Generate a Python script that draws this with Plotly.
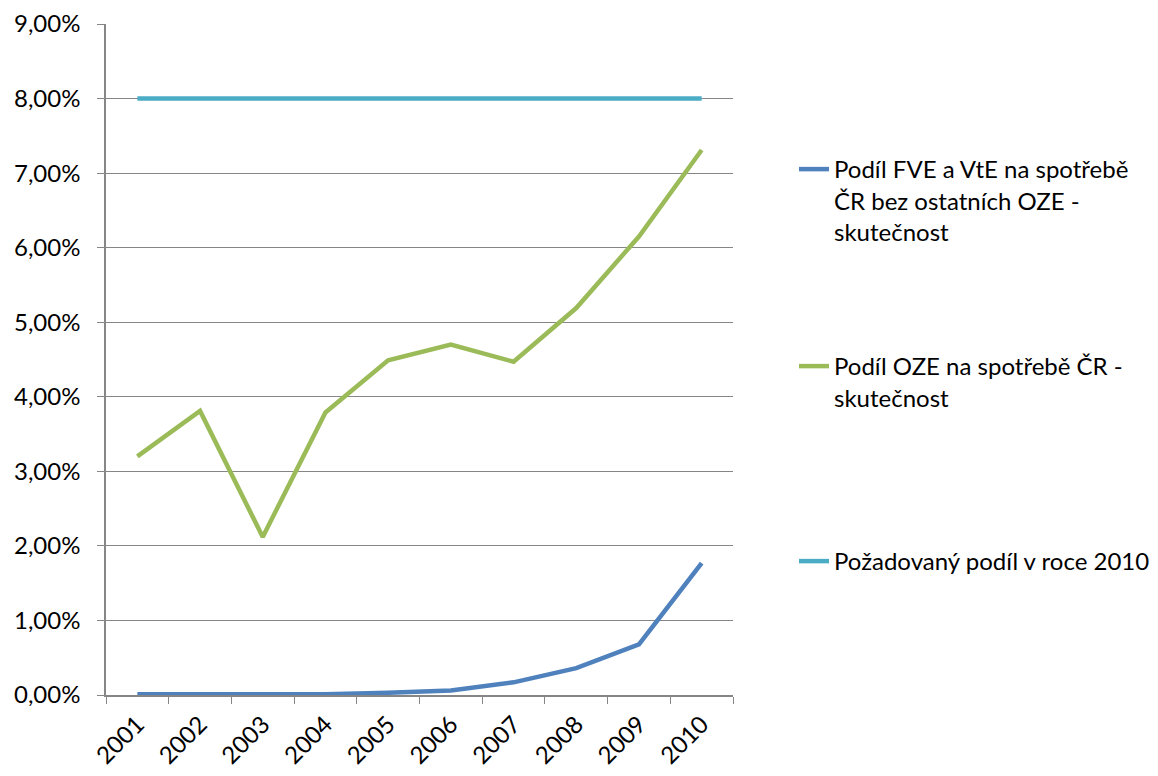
import plotly.graph_objects as go

years = ["2001", "2002", "2003", "2004", "2005", "2006", "2007", "2008", "2009", "2010"]
fve_vte = [0.0001, 0.0001, 0.0002, 0.0001, 0.0003, 0.0006, 0.0017, 0.0036, 0.0068, 0.0177]
oze = [0.0320, 0.0381, 0.0212, 0.0379, 0.0449, 0.0470, 0.0447, 0.0519, 0.0615, 0.0731]
target = [0.08] * 10

names = [
    "Podíl FVE a VtE na spotřebě<br>ČR bez ostatních OZE -<br>skutečnost",
    "Podíl OZE na spotřebě ČR -<br>skutečnost",
    "Požadovaný podíl v roce 2010",
]
colors = ["#4F81BD", "#9BBB59", "#4BACC6"]
series = [fve_vte, oze, target]
legends = ["legend", "legend2", "legend3"]

FONT = "Lato"
FS = 24

fig = go.Figure()
for name, vals, col, lg in zip(names, series, colors, legends):
    fig.add_trace(go.Scatter(
        x=years, y=vals, mode="lines", name=name,
        line=dict(color=col, width=4.5),
        legend=lg,
    ))

# page has an 8px body margin, so the figure is 8px smaller than the window
W, H = 1150, 768
leg_common = dict(
    xref="container", yref="container", xanchor="left", yanchor="top",
    font=dict(family=FONT, size=FS, color="#000000"),
    bgcolor="rgba(0,0,0,0)", valign="top", itemwidth=30,
)
fig.update_layout(
    width=W, height=H,
    paper_bgcolor="white", plot_bgcolor="white",
    margin=dict(l=98, r=425, t=16, b=81, autoexpand=False),
    separators=", ",
    font=dict(family=FONT, size=FS, color="#000000"),
    showlegend=True,
    legend=dict(x=786 / W, y=1 - 139 / H, **leg_common),
    legend2=dict(x=786 / W, y=1 - 336 / H, **leg_common),
    legend3=dict(x=786 / W, y=1 - 531 / H, **leg_common),
    xaxis=dict(
        type="category", tickson="boundaries", ticks="outside", ticklen=7,
        tickcolor="#868686", showline=True, linecolor="#868686", linewidth=1.5,
        showgrid=False, tickangle=-45, range=[-0.5, 9.5], ticklabelstandoff=4,
        tickfont=dict(family=FONT, size=FS, color="#000000"),
    ),
    yaxis=dict(
        range=[0, 0.09], dtick=0.01, tickformat=".2%",
        ticks="outside", ticklen=7, tickcolor="#868686", ticklabelstandoff=12,
        showline=True, linecolor="#868686", linewidth=1.5,
        showgrid=True, gridcolor="#868686", gridwidth=1.3,
        zeroline=False,
        tickfont=dict(family=FONT, size=FS, color="#000000"),
    ),
)
fig.write_html("out.html")
